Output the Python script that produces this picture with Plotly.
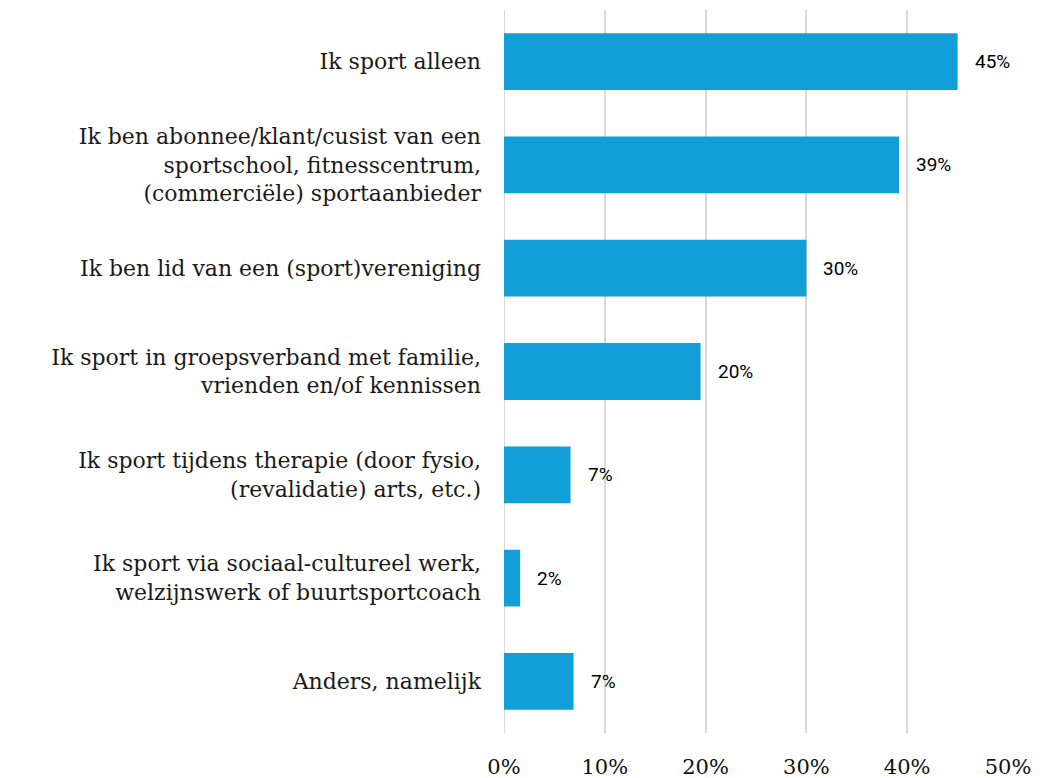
import plotly.graph_objects as go

categories = [
    "Ik sport alleen",
    "Ik ben abonnee/klant/cusist van een<br>sportschool, fitnesscentrum,<br>(commerciële) sportaanbieder",
    "Ik ben lid van een (sport)vereniging",
    "Ik sport in groepsverband met familie,<br>vrienden en/of kennissen",
    "Ik sport tijdens therapie (door fysio,<br>(revalidatie) arts, etc.)",
    "Ik sport via sociaal-cultureel werk,<br>welzijnswerk of buurtsportcoach",
    "Anders, namelijk",
]
values = [0.450, 0.392, 0.300, 0.195, 0.066, 0.016, 0.069]
value_labels = ["45%", "39%", "30%", "20%", "7%", "2%", "7%"]
tick_vals = [0, 0.1, 0.2, 0.3, 0.4, 0.5]
tick_text = ["0%", "10%", "20%", "30%", "40%", "50%"]

serif = "DejaVu Serif"
sans = "Roboto"

fig = go.Figure()
fig.add_trace(go.Bar(
    x=values, y=categories, orientation="h",
    marker=dict(color="#129ED6", line=dict(width=0)),
    hoverinfo="skip",
))

for cat, v, lab in zip(categories, values, value_labels):
    fig.add_annotation(x=v, y=cat, text=lab, showarrow=False,
                       xanchor="left", xshift=15,
                       font=dict(family=sans, size=19, color="#000000"))

# page body has an 8px margin, so margins are offset by it
fig.update_layout(
    width=1056, height=778,
    margin=dict(l=496, r=56, t=2, b=53),
    plot_bgcolor="white", paper_bgcolor="white",
    bargap=0.45,
    showlegend=False,
    xaxis=dict(range=[0, 0.5], tickvals=tick_vals, ticktext=tick_text,
               showgrid=True, gridcolor="#D9D9D9", gridwidth=2,
               zeroline=False, showline=False, ticks="",
               ticklabelstandoff=19,
               tickfont=dict(family=serif, size=21, color="#111111")),
    yaxis=dict(autorange="reversed", showgrid=False, zeroline=False,
               showline=False, ticks="", ticklabelstandoff=22,
               tickfont=dict(family=serif, size=22, color="#1a1a1a")),
)

fig.add_shape(type="line", xref="x", yref="paper", x0=0, x1=0, y0=0, y1=1,
              line=dict(color="#D9D9D9", width=2), layer="below")

fig.write_html("out.html")
